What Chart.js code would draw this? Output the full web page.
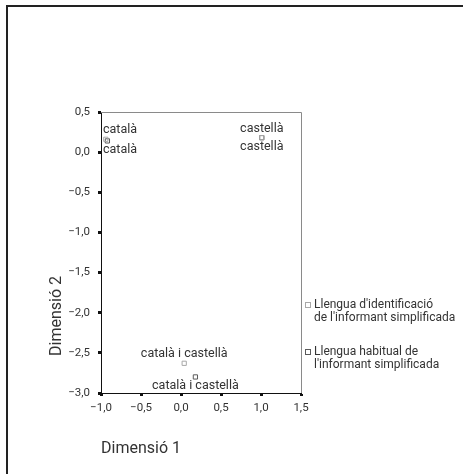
<!DOCTYPE html>
<html>
<head>
<meta charset="utf-8">
<script src="https://cdn.jsdelivr.net/npm/chart.js@4"></script>
<style>
  body { margin: 0; background: #fff; overflow: hidden; }
  #frame { position: absolute; left: 6px; top: 5px; width: 600px; height: 600px;
           border-top: 2px solid #222; border-left: 2px solid #222; }
  #wrap { position: absolute; left: 0; top: 0; width: 463px; height: 474px; }
</style>
</head>
<body>
<div id="frame"></div>
<div id="wrap"><canvas id="myChart" width="463" height="474"></canvas></div>
<script>
// category labels (same for both series)
var categories = ['català', 'castellà', 'català i castellà'];

// Llengua d'identificació de l'informant simplificada
var identX = [-0.94, 1.01, 0.04];
var identY = [0.16, 0.18, -2.63];

// Llengua habitual de l'informant simplificada
var habitX = [-0.92, 1.01, 0.18];
var habitY = [0.14, 0.18, -2.80];

var seriesNames = [
    ["Llengua d'identificació", "de l'informant simplificada"],
    ["Llengua habitual de", "l'informant simplificada"]
];

var xTicks = [-1.0, -0.5, 0.0, 0.5, 1.0, 1.5];
var yTicks = [0.5, 0.0, -0.5, -1.0, -1.5, -2.0, -2.5, -3.0];

var FONT = 'Roboto, "Liberation Sans", sans-serif';

function fmt(v) {
    var s = Math.abs(v).toFixed(1).replace('.', ',');
    return (v < -0.001 ? '\u2212' : '') + s;
}

function toPoints(xs, ys) {
    var pts = [];
    for (var i = 0; i < xs.length; i++) {
        pts.push({ x: xs[i], y: ys[i], label: categories[i] });
    }
    return pts;
}

var colors = ['#a8a8a8', '#5a5a5a'];

// labels next to points, legend and axis titles
var extras = {
    id: 'extras',
    afterDatasetsDraw: function(chart) {
        var ctx = chart.ctx;
        var area = chart.chartArea;
        ctx.save();

        // frame round the plot
        ctx.strokeStyle = '#8a8a8a';
        ctx.lineWidth = 1;
        ctx.beginPath();
        ctx.moveTo(area.left, area.top + 0.5);
        ctx.lineTo(area.right + 0.5, area.top + 0.5);
        ctx.lineTo(area.right + 0.5, area.bottom);
        ctx.stroke();

        ctx.font = '12.5px ' + FONT;
        ctx.fillStyle = '#333';
        ctx.textBaseline = 'middle';
        chart.data.datasets.forEach(function(ds, di) {
            var meta = chart.getDatasetMeta(di);
            meta.data.forEach(function(el, i) {
                var txt = ds.data[i].label;
                var w = ctx.measureText(txt).width;
                var left = el.x - w / 2;
                if (left < area.left + 2) left = area.left + 2;
                var y = di === 0 ? el.y - 9 : el.y + 9;
                ctx.textAlign = 'left';
                ctx.fillText(txt, left, y);
            });
        });

        // legend
        ctx.font = '12px ' + FONT;
        var legendY = [305, 352];
        seriesNames.forEach(function(lines, i) {
            ctx.strokeStyle = colors[i];
            ctx.strokeRect(305.5, legendY[i] - 2.5, 5, 5);
            ctx.fillStyle = '#333';
            ctx.textAlign = 'left';
            lines.forEach(function(line, j) {
                ctx.fillText(line, 314, legendY[i] + j * 12.5);
            });
        });

        // axis titles
        ctx.font = '16px ' + FONT;
        ctx.fillStyle = '#333';
        ctx.textAlign = 'left';
        ctx.fillText('Dimensió 1', 101, 449);
        ctx.translate(57, 316);
        ctx.rotate(-Math.PI / 2);
        ctx.textAlign = 'center';
        ctx.fillText('Dimensió 2', 0, 0);
        ctx.restore();
    }
};

var ctx = document.getElementById('myChart').getContext('2d');
var myChart = new Chart(ctx, {
    type: 'scatter',
    data: {
        datasets: [{
            label: seriesNames[0].join(' '),
            data: toPoints(identX, identY),
            pointStyle: 'rect',
            pointRadius: 3,
            borderWidth: 1,
            borderColor: colors[0],
            backgroundColor: 'rgba(255,255,255,0)'
        }, {
            label: seriesNames[1].join(' '),
            data: toPoints(habitX, habitY),
            pointStyle: 'rect',
            pointRadius: 3,
            borderWidth: 1,
            borderColor: colors[1],
            backgroundColor: 'rgba(255,255,255,0)'
        }]
    },
    options: {
        responsive: false,
        animation: false,
        layout: { padding: { left: 0, top: 112, right: 162, bottom: 0 } },
        plugins: { legend: { display: false }, tooltip: { enabled: false } },
        scales: {
            x: {
                type: 'linear',
                min: xTicks[0],
                max: xTicks[xTicks.length - 1],
                afterBuildTicks: function(scale) {
                    scale.ticks = xTicks.map(function(v) { return { value: v }; });
                },
                afterFit: function(scale) { scale.height = 81; },
                border: { color: '#111', width: 1 },
                grid: { drawOnChartArea: false, tickLength: 3, tickWidth: 3, tickColor: '#111' },
                ticks: {
                    color: '#333',
                    font: { family: FONT, size: 11.5 },
                    padding: 5,
                    maxRotation: 0,
                    callback: function(v) { return fmt(v); }
                }
            },
            y: {
                type: 'linear',
                min: yTicks[yTicks.length - 1],
                max: yTicks[0],
                afterBuildTicks: function(scale) {
                    scale.ticks = yTicks.map(function(v) { return { value: v }; });
                },
                afterFit: function(scale) { scale.width = 101; },
                border: { color: '#111', width: 1 },
                grid: { drawOnChartArea: false, tickLength: 3, tickWidth: 3, tickColor: '#111' },
                ticks: {
                    color: '#333',
                    font: { family: FONT, size: 11.5 },
                    padding: 8,
                    callback: function(v) { return fmt(v); }
                }
            }
        }
    },
    plugins: [extras]
});
</script>
</body>
</html>
